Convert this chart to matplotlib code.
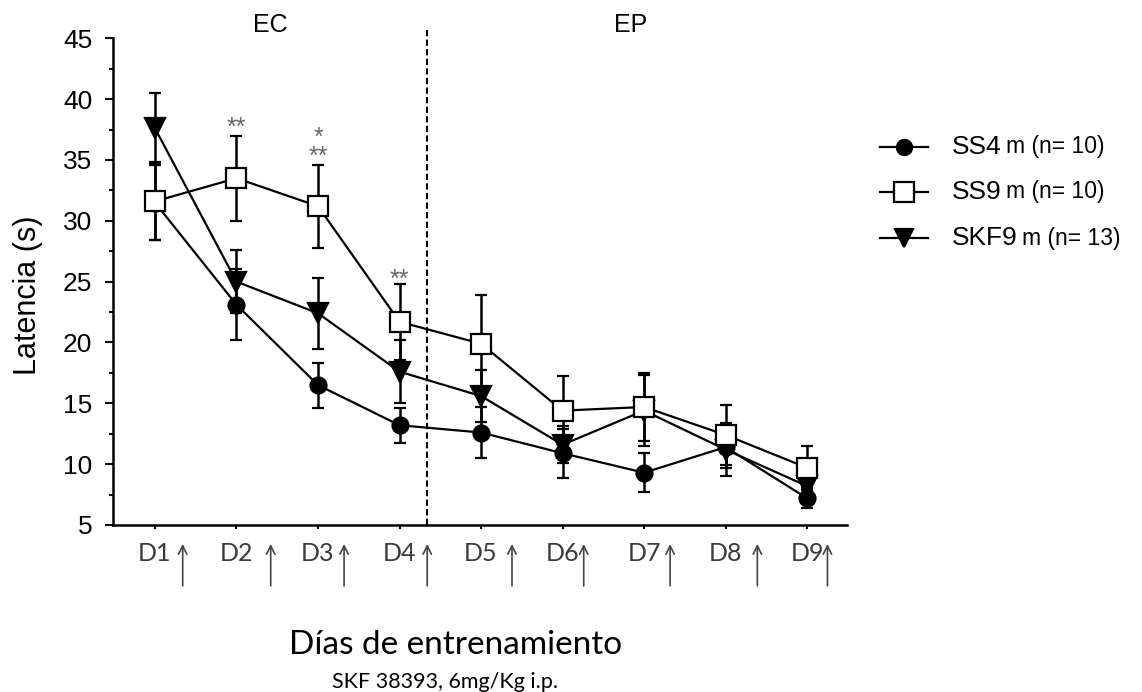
import matplotlib.pyplot as plt
from matplotlib.lines import Line2D
from matplotlib.ticker import MultipleLocator
import matplotlib.transforms as mtransforms

# ---------- DATA ----------
days = [1, 2, 3, 4, 5, 6, 7, 8, 9]
day_labels = ["D1", "D2", "D3", "D4", "D5", "D6", "D7", "D8", "D9"]

ss4 = [31.5, 23.1, 16.5, 13.2, 12.6, 10.9, 9.3, 11.4, 7.2]
ss4_err = [3.1, 2.9, 1.85, 1.45, 2.1, 2.0, 1.6, 1.7, 0.8]
ss9 = [31.6, 33.5, 31.2, 21.7, 19.9, 14.4, 14.7, 12.4, 9.7]
ss9_err = [3.2, 3.5, 3.4, 3.1, 4.0, 2.85, 2.8, 2.45, 1.8]
skf9 = [37.6, 25.0, 22.4, 17.6, 15.6, 11.6, 14.4, 11.2, 8.2]
skf9_err = [2.9, 2.6, 2.9, 2.6, 2.1, 1.5, 2.9, 2.2, 1.0]

group_names = ["SS4", "SS9", "SKF9"]
group_notes = ["m (n= 10)", "m (n= 10)", "m (n= 13)"]

# significance marks above SS9 (y = centre of the lowest row of stars)
star_days = [2, 3, 4]
star_marks = ["**", "*\n**", "**"]
star_y = [38.3, 35.9, 25.8]

# injection arrows (x position in day units)
arrow_x = [1.34, 2.42, 3.32, 4.34, 5.38, 6.26, 7.32, 8.39, 9.25]

phase_split = 4.34
phase_labels = ["EC", "EP"]
phase_x = [2.41, 6.83]

W, H = 1142, 692
ARIAL = "Liberation Sans"
CALIBRI = "Lato"

fig = plt.figure(figsize=(W / 100, H / 100), dpi=100)
ax = fig.add_axes([113 / W, 1 - 525 / H, (847 - 113) / W, (525 - 38.3) / H])

styles = [
    dict(marker="o", mfc="black", mec="black", ms=11.5, zorder=3),
    dict(marker="s", mfc="white", mec="black", ms=15, zorder=5),
    dict(marker="v", mfc="black", mec="black", ms=14, zorder=4),
]
series = [(ss4, ss4_err), (ss9, ss9_err), (skf9, skf9_err)]

for (vals, errs), st in zip(series, styles):
    ax.errorbar(days, vals, yerr=errs, color="black", lw=1.6,
                elinewidth=1.8, capsize=4.5, capthick=1.8,
                marker=st["marker"], ms=st["ms"], mfc=st["mfc"],
                mec=st["mec"], mew=1.6, zorder=st["zorder"])

# dashed separator between phases
ax.plot([phase_split, phase_split], [5, 45.9], color="black", lw=1.5,
        ls=(0, (3, 1.6)), clip_on=False, zorder=2)

# stars: asterisks sit high in the line, so shift the baseline down
for d, m, y in zip(star_days, star_marks, star_y):
    ax.annotate(m, xy=(d, y), xytext=(0, -11), textcoords="offset points",
                ha="center", va="baseline", fontsize=18, linespacing=0.75,
                multialignment="center", family=ARIAL, color="#666666")

for lab, x in zip(phase_labels, phase_x):
    ax.text(x, 1.027, lab, transform=ax.get_xaxis_transform(),
            ha="center", va="center", fontsize=18, family=ARIAL)

# arrows under the x axis
tr = mtransforms.blended_transform_factory(ax.transData, ax.transAxes)
for x in arrow_x:
    ax.annotate("", xy=(x, -0.039), xytext=(x, -0.125), xycoords=tr,
                textcoords=tr,
                arrowprops=dict(arrowstyle="->", color="#444444", lw=1.2,
                                shrinkA=0, shrinkB=0, mutation_scale=15),
                annotation_clip=False)

# ---------- AXES ----------
ax.set_xlim(0.485, 9.49)
ax.set_ylim(5, 45)
ax.yaxis.set_major_locator(MultipleLocator(5))
ax.yaxis.set_minor_locator(MultipleLocator(2.5))
ax.set_xticks(days)
ax.set_xticklabels(day_labels, family=CALIBRI, fontsize=18, color="#3a3a3a")
for lab in ax.get_yticklabels():
    lab.set_family(ARIAL)
    lab.set_fontsize(19)

ax.spines["top"].set_visible(False)
ax.spines["right"].set_visible(False)
ax.spines["left"].set_linewidth(1.8)
ax.spines["bottom"].set_linewidth(1.8)
ax.tick_params(axis="y", which="major", length=6, width=1.5, pad=9)
ax.tick_params(axis="y", which="minor", length=3, width=1.5)
ax.tick_params(axis="x", length=3, width=1.5, pad=9)

ax.set_ylabel("Latencia (s)", family=ARIAL, fontsize=22, va="center")
ax.yaxis.set_label_coords(-0.116, 0.473)
ax.set_xlabel("Días de entrenamiento", family=CALIBRI, fontsize=24,
              va="center")
ax.xaxis.set_label_coords(0.467, -0.247)

fig.text(445 / W, 1 - 682 / H, "SKF 38393, 6mg/Kg i.p.", family=CALIBRI,
         fontsize=15.5, ha="center", va="center")

# ---------- LEGEND (drawn by hand) ----------
leg_y = [146.7, 191.7, 238]
for name, note, st, y in zip(group_names, group_notes, styles, leg_y):
    yf = 1 - y / H
    fig.add_artist(Line2D([880 / W, 928 / W], [yf, yf], color="black",
                          lw=1.6, transform=fig.transFigure))
    fig.add_artist(Line2D([904 / W], [yf], marker=st["marker"],
                          ms=st["ms"] * 0.95, mfc=st["mfc"], mec=st["mec"],
                          mew=1.6, transform=fig.transFigure))
    t = fig.text(952 / W, yf, name, family=ARIAL, fontsize=19,
                 ha="left", va="center")
    fig.canvas.draw()
    bb = t.get_window_extent()
    fig.text(bb.x1 / W + 4 / W, yf, note, family=ARIAL, fontsize=16.5,
             ha="left", va="center")

fig.savefig("out.png", dpi=100)
